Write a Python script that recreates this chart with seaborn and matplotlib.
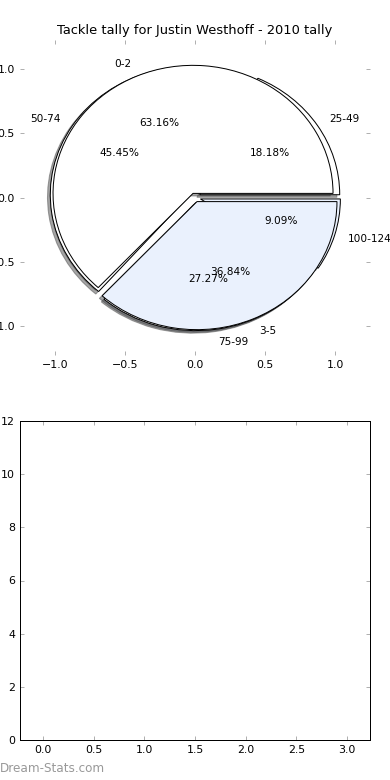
import numpy as np
import matplotlib
matplotlib.use("Agg")
import matplotlib.pyplot as plt
import seaborn as sns

# Datos de tackles (conteo de partidos por rango)
rangos_a = ['0-2', '3-5']
partidos_a = [12, 7]

rangos_b = ['25-49', '50-74', '75-99', '100-124']
partidos_b = [2, 5, 3, 1]

titulo = 'Tackle tally for Justin Westhoff - 2010 tally'
ticks_pie = [-1.0, -0.5, 0.0, 0.5, 1.0]
ticks_x_abajo = [0.0, 0.5, 1.0, 1.5, 2.0, 2.5, 3.0]
ticks_y_abajo = [0, 2, 4, 6, 8, 10, 12]

# Estilo
sns.set_theme(style="white", rc={
    'axes.edgecolor': 'black',
    'axes.linewidth': 1.0,
    'text.color': 'black',
    'axes.titlecolor': 'black',
    'xtick.direction': 'in',
    'ytick.direction': 'in',
})
plt.rcParams['font.family'] = ['DejaVu Sans']

azul = '#eaf1fd'
borde = dict(edgecolor='black', linewidth=1)

fig = plt.figure(figsize=(390 / 72, 780 / 72), dpi=72)
ax1 = fig.add_axes([20 / 390, 1 - 355 / 780, 350 / 390, 315 / 780])
ax2 = fig.add_axes([20 / 390, 40 / 780, 350 / 390, 319 / 780])

# Grafico de torta (dos series sobre el mismo eje)
ax1.pie(partidos_b, labels=rangos_b, autopct='%1.2f%%', explode=[0.04] * 4,
        shadow=True, colors=['white', 'white', 'white', azul],
        wedgeprops=borde, textprops=dict(fontsize=10.5, color='black'))
ax1.pie(partidos_a, labels=rangos_a, autopct='%1.2f%%', explode=[0.035, 0.035],
        shadow=True, colors=['white', azul],
        wedgeprops=borde, textprops=dict(fontsize=10.5, color='black'))
ax1.set_aspect('auto')
ax1.set_frame_on(False)
ax1.set_xlim(-1.25, 1.25)
ax1.set_ylim(-1.23, 1.23)
ax1.set_xticks(ticks_pie)
ax1.set_yticks(ticks_pie)
ax1.set_title(titulo, fontsize=13, pad=6, color='black')

# Eje inferior vacio
ax2.set_xlim(-0.225, 3.225)
ax2.set_ylim(0, 12)
ax2.set_xticks(ticks_x_abajo)
ax2.set_yticks(ticks_y_abajo)

for ax in (ax1, ax2):
    ax.tick_params(axis='both', which='both', direction='in', length=4, width=1,
                   color='#b0b0b0', labelsize=11, labelcolor='black',
                   top=True, right=True, bottom=True, left=True, pad=5)

fig.text(0.0, 0.006, 'Dream-Stats.com', color='#999999', fontsize=12,
         ha='left', va='bottom')

fig.savefig('out.png', dpi=72)
